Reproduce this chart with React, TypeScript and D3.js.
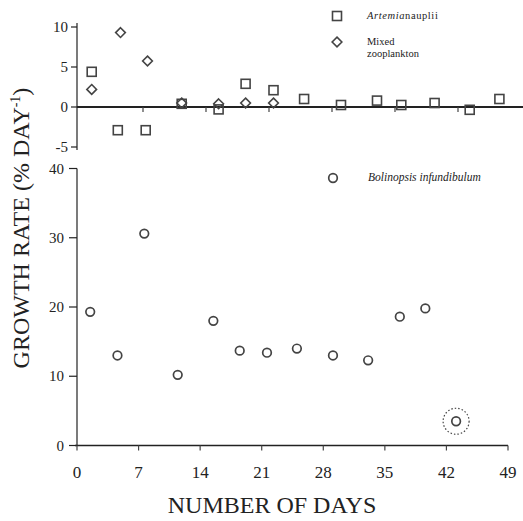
import React from "react";
import * as d3 from "d3";

// top panel: Artemia nauplii (squares) and mixed zooplankton (diamonds)
const artemiaDays = [1.3, 4.2, 7.3, 11.3, 15.4, 18.4, 21.5, 24.9, 29.0, 33.0, 35.7, 39.4, 43.3, 46.6];
const artemiaRate = [4.4, -2.9, -2.9, 0.4, -0.3, 2.9, 2.1, 1.0, 0.25, 0.8, 0.25, 0.5, -0.35, 1.0];
const mixedDays = [1.3, 4.5, 7.5, 11.3, 15.4, 18.4, 21.5];
const mixedRate = [2.2, 9.3, 5.75, 0.5, 0.4, 0.5, 0.5];

// bottom panel: Bolinopsis infundibulum (circles)
const bolinopsisDays = [1.5, 4.6, 7.65, 11.45, 15.5, 18.5, 21.6, 25.0, 29.1, 33.1, 36.7, 39.6, 43.1];
const bolinopsisRate = [19.3, 13.0, 30.6, 10.2, 18.0, 13.7, 13.4, 14.0, 13.0, 12.3, 18.6, 19.8, 3.5];

const dayTicks = [0, 7, 14, 21, 28, 35, 42, 49];
const topTicks = [-5, 0, 5, 10];
const bottomTicks = [0, 10, 20, 30, 40];

const ink = "#222";
const mark = "#444";

export default function App() {
  const width = 523, height = 521;

  const xTop = d3.scaleLinear().domain([0, 49]).range([80, 521]);
  const yTop = d3.scaleLinear().domain([-5, 10]).range([147, 27]);
  const xBot = d3.scaleLinear().domain([0, 49]).range([77, 508]);
  const yBot = d3.scaleLinear().domain([0, 40]).range([445.5, 168.5]);

  const axisX = 77;
  const diamond = d3.symbol().type(d3.symbolDiamond2).size(60)();

  return (
    <svg width={width} height={height}
      style={{ position: "absolute", left: 0, top: 0, background: "#fff" }}
      fontFamily="'Liberation Serif', 'Times New Roman', serif">
      {/* top panel axes */}
      <line x1={axisX} x2={axisX} y1={yTop(10) - 4} y2={yTop(-5) + 3} stroke={ink} strokeWidth={1.2} />
      {topTicks.map(t => (
        <g key={t}>
          <line x1={axisX - 6} x2={axisX} y1={yTop(t)} y2={yTop(t)} stroke={ink} strokeWidth={1.2} />
          <text x={axisX - 9} y={yTop(t) + 5} textAnchor="end" fontSize={15} fill={ink}>{t}</text>
        </g>
      ))}
      <line x1={axisX} x2={523} y1={yTop(0)} y2={yTop(0)} stroke={ink} strokeWidth={2} />
      {dayTicks.slice(1, 7).map(t => (
        <line key={t} x1={xTop(t)} x2={xTop(t)} y1={yTop(0)} y2={yTop(0) + 5} stroke={mark} strokeWidth={1.2} />
      ))}

      {artemiaDays.map((d, i) => (
        <rect key={"a" + i} x={xTop(d) - 4.5} y={yTop(artemiaRate[i]) - 4.5} width={9} height={9}
          fill="none" stroke={mark} strokeWidth={1.6} />
      ))}
      {mixedDays.map((d, i) => (
        <path key={"m" + i} d={diamond} transform={`translate(${xTop(d)},${yTop(mixedRate[i])})`}
          fill="none" stroke={mark} strokeWidth={1.6} />
      ))}

      {/* top legend */}
      <rect x={332.5} y={11.5} width={9} height={9} fill="none" stroke={mark} strokeWidth={1.6} />
      <text x={367} y={19} fontSize={10.5} fill={ink} letterSpacing={0.6}>
        <tspan fontStyle="italic">Artemia</tspan><tspan>nauplii</tspan>
      </text>
      <path d={diamond} transform="translate(337,42)" fill="none" stroke={mark} strokeWidth={1.6} />
      <text x={367} y={45} fontSize={10.5} fill={ink}>Mixed</text>
      <text x={367} y={57} fontSize={10.5} fill={ink}>zooplankton</text>

      {/* bottom panel axes */}
      <line x1={axisX} x2={axisX} y1={yBot(40)} y2={yBot(0)} stroke={ink} strokeWidth={1.2} />
      {bottomTicks.map(t => (
        <g key={t}>
          <line x1={axisX - 8} x2={axisX} y1={yBot(t)} y2={yBot(t)} stroke={ink} strokeWidth={1.2} />
          <text x={axisX - 13} y={yBot(t) + 5} textAnchor="end" fontSize={15} fill={ink}>{t}</text>
        </g>
      ))}
      <line x1={axisX - 2} x2={xBot(49)} y1={yBot(0)} y2={yBot(0)} stroke={ink} strokeWidth={1.6} />
      {dayTicks.map(t => (
        <g key={t}>
          <line x1={xBot(t)} x2={xBot(t)} y1={yBot(0)} y2={yBot(0) + 5} stroke={mark} strokeWidth={1.2} />
          <text x={xBot(t)} y={478} textAnchor="middle" fontSize={17} fill={ink}>{t}</text>
        </g>
      ))}

      {bolinopsisDays.map((d, i) => (
        <circle key={"b" + i} cx={xBot(d)} cy={yBot(bolinopsisRate[i])} r={4.3}
          fill="none" stroke={mark} strokeWidth={1.7} />
      ))}
      {/* dotted ring round the last point */}
      <circle cx={xBot(bolinopsisDays[12])} cy={yBot(bolinopsisRate[12])} r={13}
        fill="none" stroke={mark} strokeWidth={1.2} strokeDasharray="1.5,2" />

      {/* bottom legend */}
      <circle cx={333} cy={178} r={4.3} fill="none" stroke={mark} strokeWidth={1.7} />
      <text x={368} y={181} fontSize={11.5} fontStyle="italic" fill={ink}>Bolinopsis infundibulum</text>

      {/* axis titles */}
      <text transform="translate(29,228) rotate(-90)" textAnchor="middle" fontSize={24} fill={ink}>
        GROWTH RATE (% DAY<tspan dy={-9} fontSize={14}>-1</tspan><tspan dy={9}>)</tspan>
      </text>
      <text x={272} y={513} textAnchor="middle" fontSize={24} fill={ink}>NUMBER OF DAYS</text>
    </svg>
  );
}
